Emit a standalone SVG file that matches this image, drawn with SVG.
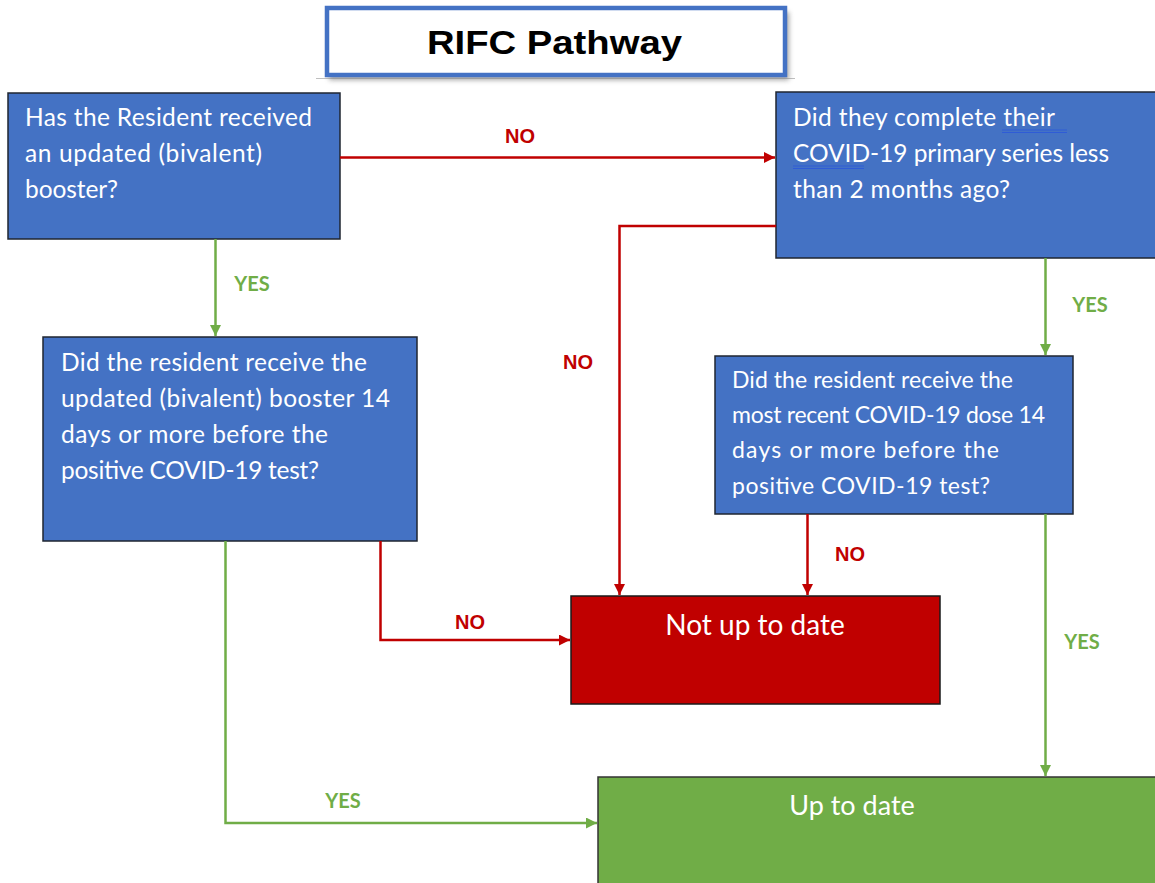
<svg xmlns="http://www.w3.org/2000/svg" width="1155" height="883" viewBox="0 0 1155 883">
<defs>
<style>
.q{fill:#4472C4;stroke:#1f2630;stroke-width:1.5}
.qt{font-family:Lato,"Noto Sans",sans-serif;font-size:24.5px;fill:#ffffff}
.qs{font-family:Lato,"Noto Sans",sans-serif;font-size:23px;fill:#ffffff}
.red{stroke:#C00000;stroke-width:2.5;fill:none}
.grn{stroke:#70AD47;stroke-width:2.5;fill:none}
.no{font-family:"Liberation Sans",Arial,sans-serif;font-weight:bold;font-size:20px;fill:#C00000;text-anchor:middle}
.yes{font-family:Lato,"Noto Sans",sans-serif;font-weight:bold;font-size:20px;fill:#70AD47;text-anchor:middle}
.ul{stroke:#2F5CD6;stroke-width:1}
</style>
<marker id="ar" viewBox="0 0 10 10" refX="10" refY="5" markerWidth="4.6" markerHeight="4.4" markerUnits="strokeWidth" orient="auto"><path d="M0,0 L10,5 L0,10 z" fill="#C00000"/></marker>
<marker id="ag" viewBox="0 0 10 10" refX="10" refY="5" markerWidth="4.6" markerHeight="4.4" markerUnits="strokeWidth" orient="auto"><path d="M0,0 L10,5 L0,10 z" fill="#70AD47"/></marker>
<filter id="sh" x="-10%" y="-30%" width="120%" height="180%"><feGaussianBlur stdDeviation="2.5"/></filter>
</defs>
<rect width="1155" height="883" fill="#ffffff"/>

<g id="title">
<line x1="316" y1="78.5" x2="795" y2="78.5" stroke="#bfbfbf" stroke-width="1"/>
<rect x="329" y="12" width="460" height="68" fill="#7f7f7f" filter="url(#sh)" opacity="0.7"/>
<rect x="327" y="8" width="458" height="67" fill="#ffffff" stroke="#4472C4" stroke-width="4.5"/>
<text x="427" y="54" textLength="255" lengthAdjust="spacingAndGlyphs" font-family="'Liberation Sans',Arial,sans-serif" font-weight="bold" font-size="34" fill="#000">RIFC Pathway</text>
</g>

<g id="q1">
<rect class="q" x="8" y="93" width="332" height="146"/>
<text class="qt" x="25" y="126" textLength="287">Has the Resident received</text>
<text class="qt" x="25" y="162" textLength="237">an updated (bivalent)</text>
<text class="qt" x="25" y="198" textLength="93">booster?</text>
</g>

<g id="q2">
<rect class="q" x="776" y="92" width="390" height="166"/>
<text class="qt" x="793" y="126" textLength="262">Did they complete their</text>
<text class="qt" x="793" y="162" textLength="316">COVID-19 primary series less</text>
<text class="qt" x="793" y="198" textLength="217">than 2 months ago?</text>
<line class="ul" x1="1002" y1="130" x2="1067" y2="130"/>
<line class="ul" x1="1002" y1="132.5" x2="1067" y2="132.5"/>
<line class="ul" x1="793" y1="166" x2="864" y2="166"/>
<line class="ul" x1="793" y1="168.5" x2="864" y2="168.5"/>
</g>

<g id="q3">
<rect class="q" x="43" y="337" width="374" height="204"/>
<text class="qt" x="61" y="371" textLength="306">Did the resident receive the</text>
<text class="qt" x="61" y="407" textLength="329">updated (bivalent) booster 14</text>
<text class="qt" x="61" y="443" textLength="267">days or more before the</text>
<text class="qt" x="61" y="479" textLength="258">positive COVID-19 test?</text>
</g>

<g id="q4">
<rect class="q" x="715" y="356" width="358" height="158"/>
<text class="qs" x="732" y="388" textLength="281">Did the resident receive the</text>
<text class="qs" x="732" y="423" textLength="313">most recent COVID-19 dose 14</text>
<text class="qs" x="732" y="458" textLength="267">days or more before the</text>
<text class="qs" x="732" y="494" textLength="258">positive COVID-19 test?</text>
</g>

<g id="notUpToDate">
<rect x="571" y="596" width="369" height="108" fill="#C00000" stroke="#1a1a1a" stroke-width="1.5"/>
<text x="755" y="635" font-family="Lato,'Noto Sans',sans-serif" font-size="28" fill="#ffffff" text-anchor="middle">Not up to date</text>
</g>

<g id="upToDate">
<rect x="598" y="777" width="570" height="120" fill="#70AD47" stroke="#333333" stroke-width="1.5"/>
<text x="852" y="815" font-family="Lato,'Noto Sans',sans-serif" font-size="27" fill="#ffffff" text-anchor="middle">Up to date</text>
</g>

<g id="connectors">
<path class="red" d="M340,157.5 H775" marker-end="url(#ar)"/>
<path class="red" d="M776,226 H619.5 V595" marker-end="url(#ar)"/>
<path class="grn" d="M215.5,239 V336" marker-end="url(#ag)"/>
<path class="grn" d="M1045.5,258 V355" marker-end="url(#ag)"/>
<path class="red" d="M380.5,541 V640 H570" marker-end="url(#ar)"/>
<path class="red" d="M807.5,514 V595" marker-end="url(#ar)"/>
<path class="grn" d="M1045.5,514 V776" marker-end="url(#ag)"/>
<path class="grn" d="M225.5,541 V823 H597" marker-end="url(#ag)"/>
<text class="no" x="520" y="143">NO</text>
<text class="no" x="578" y="369">NO</text>
<text class="no" x="470" y="629">NO</text>
<text class="no" x="850" y="561">NO</text>
<text class="yes" x="252" y="291">YES</text>
<text class="yes" x="1090" y="312">YES</text>
<text class="yes" x="1082" y="649">YES</text>
<text class="yes" x="343" y="808">YES</text>
</g>
</svg>
